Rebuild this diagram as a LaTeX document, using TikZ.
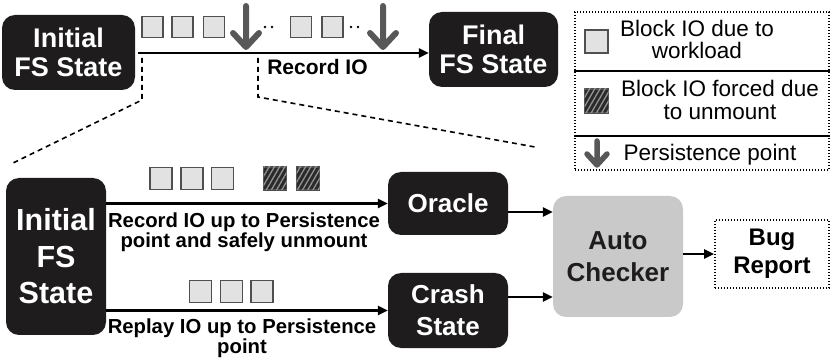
\documentclass[tikz,border=0pt]{standalone}
\usepackage{fontspec}
\setmainfont{Liberation Sans}
\usetikzlibrary{arrows.meta,patterns.meta}
\definecolor{boxblack}{HTML}{1E1C1D}
\definecolor{sqfill}{HTML}{E2E2E2}
\definecolor{sqdraw}{HTML}{505050}
\definecolor{persist}{HTML}{585858}
\definecolor{checkfill}{HTML}{C9C9C9}
\definecolor{hatchdark}{HTML}{2A2A2A}
\tikzset{
  blk/.style={fill=boxblack, text=white, rounded corners=13pt, align=center, inner sep=0pt},
  sq/.style={draw=sqdraw, fill=sqfill, line width=1.2pt, minimum size=21pt, inner sep=0pt},
  hsq/.style={draw=sqdraw, fill=hatchdark, line width=1.2pt, minimum size=22pt, inner sep=0pt,
    postaction={pattern={Lines[angle=60,distance=4.5pt,line width=1.3pt]}, pattern color=gray!85}},
  arr/.style={line width=2.4pt, -{Triangle[length=10pt,width=9pt]}},
  persistarrow/.style={draw=persist, line width=6pt, line cap=round, line join=round},
  dsh/.style={line width=1.6pt, dash pattern=on 5pt off 4pt},
  dotbox/.style={draw, line width=1.6pt, dash pattern=on 1.4pt off 1.6pt, align=center, inner sep=0pt},
  lbl/.style={align=center, inner sep=0pt},
}
\begin{document}
\begin{tikzpicture}[x=1pt,y=-1pt]
\useasboundingbox (0,0) rectangle (830,363);
% ---------- top row ----------
\node[blk, minimum width=133pt, minimum height=75pt, font=\bfseries\fontsize{27}{29.5}\selectfont] (init1) at (68.5,52.5) {Initial\\FS State};
\node[blk, minimum width=129pt, minimum height=75pt, font=\bfseries\fontsize{27}{29.5}\selectfont] (final) at (493.5,49.5) {Final\\FS State};
\coordinate (mstart) at (138,53);
\draw[arr] (mstart) -- (mstart -| final.west);
\node[lbl, font=\bfseries\fontsize{21}{22}\selectfont, anchor=base] (recio) at (317.5,75) {Record IO};
% squares top
\node[sq] (t1) at (152.5,27) {};
\node[sq] (t2) at (182.5,27) {};
\node[sq] (t3) at (214,27) {};
\node[sq] (t4) at (301,27) {};
\node[sq] (t5) at (332.5,27) {};
% dots
\fill (265,27) circle (1.3) (272,27) circle (1.3);
\fill (351,27) circle (1.3) (358,27) circle (1.3);
% persistence arrows
\draw[persistarrow] (246,6) -- (246,46) (233,33) -- (246,47) -- (259,33);
\draw[persistarrow] (383,6) -- (383,46) (370,33) -- (383,47) -- (396,33);
% dashed zoom lines
\coordinate (dl1) at (142,58);
\coordinate (dl2) at (142,100);
\coordinate (dl3) at (13,163);
\coordinate (dr1) at (258,58);
\coordinate (dr2) at (258,97);
\coordinate (dr3) at (535,147);
\draw[dsh] (dl1) -- (dl2) -- (dl3);
\draw[dsh] (dr1) -- (dr2) -- (dr3);
% ---------- legend ----------
\node[dotbox, minimum width=254pt, minimum height=158pt] (legend) at (702,91) {};
\draw[line width=1.6pt] (legend.west |- 0,71) -- (legend.east |- 0,71);
\draw[line width=1.6pt] (legend.west |- 0,136) -- (legend.east |- 0,136);
\node[sq, minimum size=23pt] (lsq) at (596.5,41.5) {};
\node[hsq, minimum size=24pt] (lhsq) at (596.5,101) {};
\draw[persistarrow, line width=5.5pt] (597,141) -- (597,164) (587,154) -- (597,165) -- (607,154);
\node[lbl, font=\fontsize{22.5}{22.5}\selectfont, anchor=base] (l1) at (697,59) {Block IO due to\\workload};
\node[lbl, font=\fontsize{22.5}{23}\selectfont, anchor=base] (l2) at (720,120) {Block IO forced due\\to unmount};
\node[lbl, font=\fontsize{22.5}{23}\selectfont, anchor=base] (l3) at (710,161) {Persistence point};
% ---------- bottom ----------
\node[blk, minimum width=100pt, minimum height=157pt, font=\bfseries\fontsize{30.5}{36.5}\selectfont] (init2) at (56,256.5) {Initial\\FS\\State};
\node[blk, minimum width=120pt, minimum height=63pt, font=\bfseries\fontsize{26}{32}\selectfont] (oracle) at (448,203.5) {Oracle};
\node[blk, minimum width=120pt, minimum height=75pt, font=\bfseries\fontsize{26}{32}\selectfont] (crash) at (448,310.5) {Crash\\State};
\node[blk, fill=checkfill, text=boxblack, minimum width=130pt, minimum height=121pt, font=\bfseries\fontsize{26}{32}\selectfont] (auto) at (618,256.5) {Auto\\Checker};
\node[dotbox, minimum width=114pt, minimum height=68pt, font=\bfseries\fontsize{24}{28}\selectfont] (bug) at (772,254) {Bug\\Report};
% bottom squares
\node[sq, minimum size=22pt] (o1) at (161,178.5) {};
\node[sq, minimum size=22pt] (o2) at (192,178.5) {};
\node[sq, minimum size=22pt] (o3) at (222.5,178.5) {};
\node[hsq, minimum size=23pt] (o4) at (275,178.5) {};
\node[hsq, minimum size=23pt] (o5) at (308,178.5) {};
\node[sq, minimum size=22pt] (c1) at (200.5,291.5) {};
\node[sq, minimum size=22pt] (c2) at (231.5,291.5) {};
\node[sq, minimum size=22pt] (c3) at (262,291.5) {};
% arrows
\draw[arr] (oracle.west -| init2.east) -- (oracle.west);
\draw[arr] (crash.west -| init2.east) -- (crash.west);
\draw[arr] ([yshift=-8.5pt]oracle.east) -- ([yshift=-8.5pt]oracle.east -| auto.west);
\draw[arr] ([yshift=13.5pt]crash.east) -- ([yshift=13.5pt]crash.east -| auto.west);
\draw[arr] (bug.west -| auto.east) -- (bug.west);
% labels
\node[lbl, font=\bfseries\fontsize{20.3}{20}\selectfont, anchor=base] (reclbl) at (244,248) {Record IO up to Persistence\\point and safely unmount};
\node[lbl, font=\bfseries\fontsize{20.3}{20}\selectfont, anchor=base] (replbl) at (242,353) {Replay IO up to Persistence\\point};
\end{tikzpicture}
\end{document}
